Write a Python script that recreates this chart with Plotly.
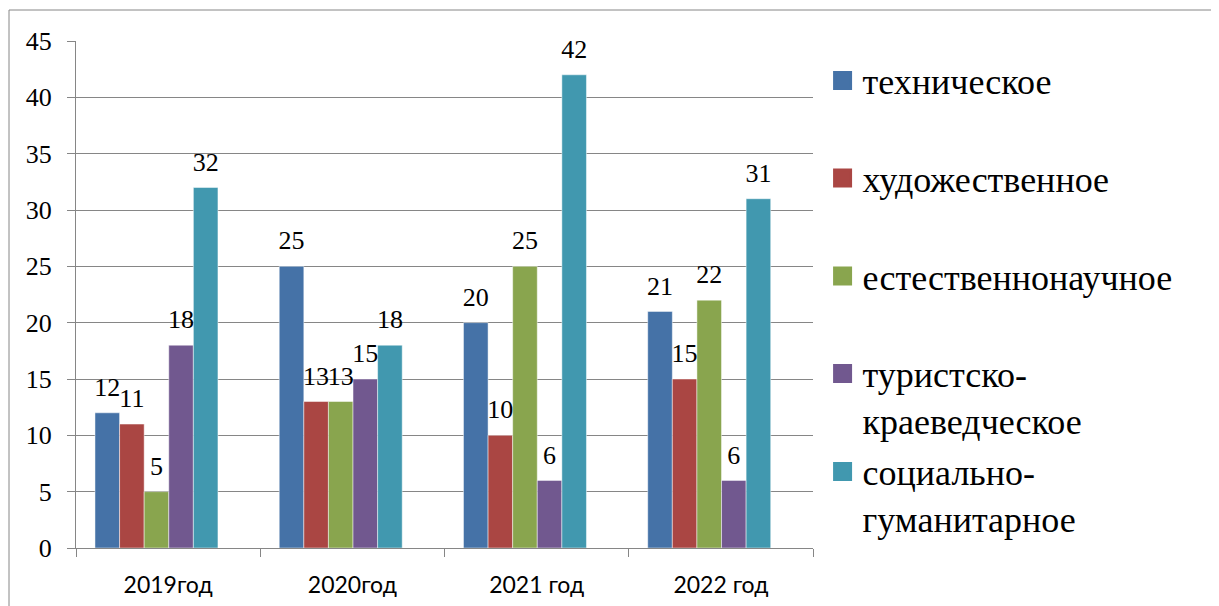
import plotly.graph_objects as go

categories = ["2019год", "2020год", "2021 год", "2022 год"]
series_names = ["техническое", "художественное", "естественнонаучное",
                "туристско-<br>краеведческое", "социально-<br>гуманитарное"]
tech = [12, 25, 20, 21]
art = [11, 13, 10, 15]
nat = [5, 13, 25, 22]
tour = [18, 15, 6, 6]
soc = [32, 18, 42, 31]
y_ticks = [0, 5, 10, 15, 20, 25, 30, 35, 40, 45]

series_values = [tech, art, nat, tour, soc]
colors = ["#4572A7", "#AA4643", "#89A54E", "#71588F", "#4198AF"]

BAR_W = 0.1335
LEFT_GAP = 0.103
SERIF_LABEL = "Tinos"
SERIF_LEGEND = "Times New Roman"
SERIF_TICK = "serif"
SANS = "Lato"

fig = go.Figure()
idx = list(range(len(categories)))
for i, (name, vals, col) in enumerate(zip(series_names, series_values, colors)):
    off = -0.5 + LEFT_GAP + i * BAR_W
    fig.add_trace(go.Bar(
        x=categories, y=vals, name=name, marker_color=col,
        marker_line=dict(color="rgba(255,255,255,0.6)", width=0.8),
        width=BAR_W, offset=off, showlegend=False, hoverinfo="skip",
    ))
    fig.add_trace(go.Scatter(
        x=[k + off + BAR_W / 2 for k in idx], y=vals, xaxis="x2",
        mode="markers+text", text=[str(v) for v in vals],
        textposition="top center",
        textfont=dict(family=SERIF_LABEL, size=26, color="black"),
        marker=dict(size=15, opacity=0), showlegend=False, hoverinfo="skip",
        cliponaxis=False,
    ))

leg_ids = ["legend", "legend2", "legend3", "legend4", "legend5"]
for name, col, lid in zip(series_names, colors, leg_ids):
    fig.add_trace(go.Scatter(
        x=[None], y=[None], mode="markers", name=name, legend=lid,
        marker=dict(symbol="square", size=16, color=col,
                    line=dict(color=col, width=3)),
        hoverinfo="skip",
    ))

PLOT_BOTTOM = 548
PLOT_H = 507
def py(p):
    return (PLOT_BOTTOM - p) / PLOT_H

leg_y = [py(80.5), py(178), py(276), py(397), py(495)]
leg_common = dict(x=1.013, xanchor="left", yanchor="middle", valign="top",
                  bgcolor="rgba(0,0,0,0)", borderwidth=0,
                  font=dict(family=SERIF_LEGEND, size=36, color="black"))
legends = {}
for lid, yv in zip(leg_ids, leg_y):
    legends[lid] = dict(y=yv, **leg_common)

GRID = "#868686"
fig.update_layout(
    width=1211, height=598,
    margin=dict(l=68, r=406, t=33, b=58, autoexpand=False),
    paper_bgcolor="white", plot_bgcolor="white",
    barmode="group",
    xaxis=dict(type="category", range=[-0.5, 3.5], showline=True, linecolor=GRID,
               linewidth=1, ticks="outside", tickson="boundaries", ticklen=8,
               tickcolor=GRID, tickwidth=1, showgrid=False,
               tickfont=dict(family=SANS, size=23, color="black"),
               ticklabelstandoff=16),
    xaxis2=dict(overlaying="x", range=[-0.5, 3.5], visible=False),
    yaxis=dict(range=[0, 45], tickvals=y_ticks, showline=True, linecolor=GRID,
               linewidth=1, ticks="outside", ticklen=8, tickcolor=GRID,
               tickwidth=1, showgrid=True, gridcolor=GRID, gridwidth=1,
               zeroline=False,
               tickfont=dict(family=SERIF_TICK, size=26, color="black"),
               ticklabelstandoff=10),
    shapes=[dict(type="rect", xref="paper", yref="paper",
                 x0=(1 - 68) / 737, x1=1.6, y0=-0.15, y1=py(10),
                 line=dict(color=GRID, width=1), fillcolor="rgba(0,0,0,0)",
                 layer="below")],
    **legends,
)

fig.write_html("out.html")
